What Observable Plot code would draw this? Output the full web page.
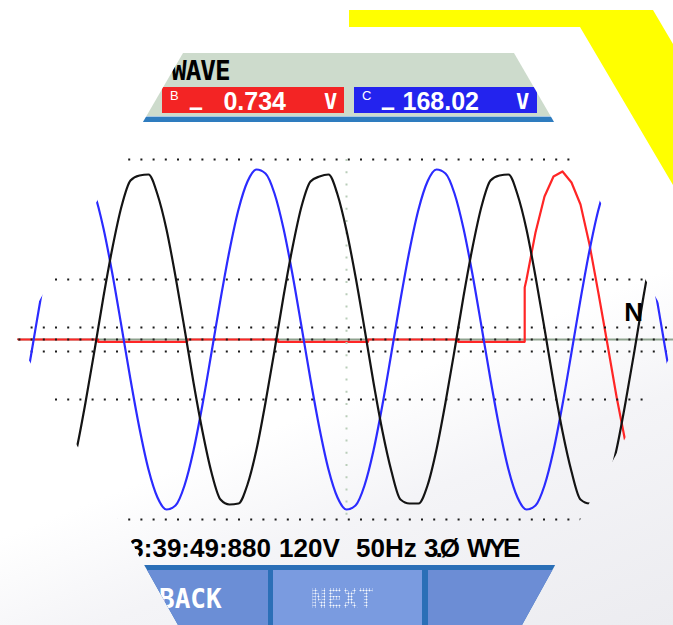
<!DOCTYPE html>
<html>
<head>
<meta charset="utf-8">
<script src="https://cdn.jsdelivr.net/npm/d3@7"></script>
<script src="https://cdn.jsdelivr.net/npm/@observablehq/plot@0.6"></script>
<style>
  html, body { margin: 0; padding: 0; }
  body {
    width: 673px; height: 625px; overflow: hidden; position: relative;
    background: linear-gradient(158deg, #ffffff 0%, #ffffff 60%, #f4f4f7 74%, #ececf0 100%);
    font-family: "Liberation Sans", Arial, sans-serif;
  }
  #yellow {
    position: absolute; left: 0; top: 0; width: 673px; height: 625px; background: #ffff00;
    clip-path: polygon(349px 10px, 653px 10px, 720px 124px, 720px 265px, 580px 27px, 349px 27px);
  }
  #screen {
    position: absolute; left: 0; top: 0; width: 673px; height: 625px;
    clip-path: polygon(17px 339px, 183px 53px, 514px 53px, 680px 339px, 522px 625px, 178px 625px);
  }
  .abs { position: absolute; white-space: pre; }
  #hdr { left: 0; top: 53px; width: 673px; height: 63px; background: #cddbcc; }
  #hbar { left: 0; top: 116px; width: 673px; height: 6px; background: linear-gradient(#a9c8e4 0, #a9c8e4 1px, #2e7cbf 1px, #2e7cbf 100%); }
  #title { left: 171px; top: 58px; font: bold 26px/26px "DejaVu Sans Mono", monospace; color: #000; letter-spacing: -1px; }
  .box { top: 87px; height: 26px; color: #fff; }
  .lab { left: 8px; top: 2px; font: 13px/13px "Liberation Sans", sans-serif; }
  .sign { left: 27px; top: 8px; font: bold 25px/25px "Liberation Sans", sans-serif; }
  .val { right: 58px; top: 2px; font: bold 25px/25px "Liberation Sans", sans-serif; }
  .unit { left: 162px; top: 4px; font: bold 22px/22px "DejaVu Sans Mono", monospace; }
  #chart { left: 0; top: 125px; }
  .st { top: 535px; font: bold 26px/26px "Liberation Sans", sans-serif; color: #000; }
  #btnbar { left: 0; top: 565px; width: 673px; height: 60px; background: #2b6fb7; }
  .btn { top: 570px; height: 55px; }
  .btxt { top: 586px; font: bold 26px/26px "DejaVu Sans Mono", monospace; color: #fff; }
  .dim {
    color: transparent;
    background: radial-gradient(circle, rgba(255,255,255,0.95) 40%, rgba(255,255,255,0) 55%) 0 0 / 3px 3px;
    -webkit-background-clip: text; background-clip: text;
  }
</style>
</head>
<body>
<div id="yellow"></div>
<div id="screen"></div>
<script>
// ---------- data ----------
// sample times in ms (cursor at 0 ms), one sample per ms
const timeMs = [-37,-36,-35,-34,-33,-32,-31,-30,-29,-28,-27,-26,-25,-24,-23,-22,-21,-20,-19,-18,
  -17,-16,-15,-14,-13,-12,-11,-10,-9,-8,-7,-6,-5,-4,-3,-2,-1,0,1,2,
  3,4,5,6,7,8,9,10,11,12,13,14,15,16,17,18,19,20,21,22,
  23,24,25,26,27,28,29,30,31,32,33,34,35,36,37];
// phase A (black trace), volts
const phaseA = [-43,-92,-132,-160,-164,-164,-145,-110,-63,-11,43,92,133,159,164,165,145,110,63,11,
  -43,-92,-133,-160,-165,-164,-145,-110,-63,-11,43,92,133,158,163,165,145,109,63,11,
  -43,-92,-132,-160,-164,-164,-146,-110,-63,-11,43,92,133,159,164,165,145,110,63,11,
  -43,-92,-132,-160,-164,-164,-145,-110,-63,-11,43,92,133,159,164];
// phase C (blue trace), volts
const phaseC = [-111,-65,-13,40,89,130,158,170,166,146,111,65,13,-40,-89,-130,-158,-170,-166,-146,
  -111,-65,-13,40,89,130,158,170,166,146,111,65,13,-40,-89,-130,-158,-170,-166,-146,
  -111,-65,-13,40,89,130,158,170,166,146,111,65,13,-40,-89,-130,-158,-170,-166,-146,
  -111,-65,-13,40,89,130,158,170,166,146,111,65,13,-40,-89];
// phase B (red trace): near zero, then returns at ~19.8 ms
const phaseBTime = [-38.5,-27.6,-27.6,-17.7,-17.7,-7.6,-7.6,2.4,2.4,12.4,12.4,19.8,19.8,
  20,21,22,23,24,25,26,27,28,29,30,31,32,33,34,35,36,37];
const phaseBVolts = [0,0,-2.3,-2.3,0,0,-2.3,-2.3,0,0,-2.3,-2.3,52,
  60,107,143,163,168,157,135,95,46,-5,-57,-103,-139,-161,-168,-158,-133,-94];
// dotted graticule levels (volts) and cursor time (ms)
const gridVolts = [180, 60, 12, 0, -12, -60, -180];
const cursorMs = [0];
const traceLabels = [{label: "N", t: 31.9, v: 26.5}];
// texts
const titleText = "WAVE";
const readingPhases = ["B", "C"];
const readingSigns = ["–", "–"];
const readingValues = ["0.734", "168.02"];
const readingUnits = ["V", "V"];
const statusTokens = ["13:39:49:880", "120V", "50Hz", "3.Ø", "WYE"];
const buttonLabels = ["BACK", "NEXT", ""];

// ---------- layout ----------
const screen = document.getElementById("screen");
function el(cls, id, style, text) {
  const d = document.createElement("div");
  d.className = "abs " + (cls || "");
  if (id) d.id = id;
  if (style) d.setAttribute("style", style);
  if (text != null) d.textContent = text;
  screen.appendChild(d);
  return d;
}
el("", "hdr");
el("", "hbar");
el("", "title", null, titleText);
const boxLayout = [{left: 162, width: 182, bg: "#f32424"}, {left: 354, width: 183, bg: "#2323ee"}];
readingPhases.forEach((p, i) => {
  const b = el("box", null, `left:${boxLayout[i].left}px;width:${boxLayout[i].width}px;background:${boxLayout[i].bg}`);
  const mk = (cls, t) => { const s = document.createElement("div"); s.className = "abs " + cls; s.textContent = t; b.appendChild(s); };
  mk("lab", p);
  mk("sign", readingSigns[i]);
  mk("val", readingValues[i]);
  mk("unit", readingUnits[i]);
});

// chart
const lineA = timeMs.map((t, i) => ({t, v: phaseA[i]}));
const lineC = timeMs.map((t, i) => ({t, v: phaseC[i]}));
const lineB = phaseBTime.map((t, i) => ({t, v: phaseBVolts[i]}));
const chart = Plot.plot({
  width: 673,
  height: 410,
  margin: 0,
  x: {domain: [-346 / 9, 327 / 9], axis: null},
  y: {domain: [-196, 214], axis: null},
  style: {background: "transparent", overflow: "visible"},
  marks: [
    Plot.ruleY([0], {stroke: "#8fa38f", strokeWidth: 2}),
    Plot.line(lineB, {x: "t", y: "v", stroke: "#ff2626", strokeWidth: 2.2}),
    Plot.ruleY(gridVolts, {stroke: "#1a1a1a", strokeWidth: 2, strokeDasharray: "2 10.2", strokeDashoffset: 6}),
    Plot.ruleX(cursorMs, {y1: 180, y2: -180, stroke: "#b9cdb9", strokeWidth: 2, strokeDasharray: "2 10.2"}),
    Plot.line(lineC, {x: "t", y: "v", stroke: "#2b2bff", strokeWidth: 2.2, curve: "monotone-x"}),
    Plot.line(lineA, {x: "t", y: "v", stroke: "#141414", strokeWidth: 2.2, curve: "monotone-x"}),
    Plot.text(traceLabels, {x: "t", y: "v", text: "label", fontSize: 26, fontWeight: "bold",
      fill: "#000", fontFamily: "Liberation Sans, Arial, sans-serif"})
  ]
});
const holder = el("", "chart");
holder.appendChild(chart);

// status line
const statusLayout = [
  "right:402px", "left:279px", "left:356px", "left:424px;letter-spacing:-3px", "left:467px;letter-spacing:-3px"
];
statusTokens.forEach((t, i) => el("st", null, statusLayout[i], t));

// buttons
el("", "btnbar");
const btnLayout = [{left: 0, width: 268, bg: "#6b8ed6", tx: 159}, {left: 273, width: 149, bg: "#7a9be0", tx: 311}, {left: 428, width: 245, bg: "#6c8dd5", tx: 470}];
buttonLabels.forEach((lab, i) => {
  el("btn", null, `left:${btnLayout[i].left}px;width:${btnLayout[i].width}px;background:${btnLayout[i].bg}`);
  if (lab) el("btxt" + (i === 1 ? " dim" : ""), null, `left:${btnLayout[i].tx}px`, lab);
});
</script>
</body>
</html>
